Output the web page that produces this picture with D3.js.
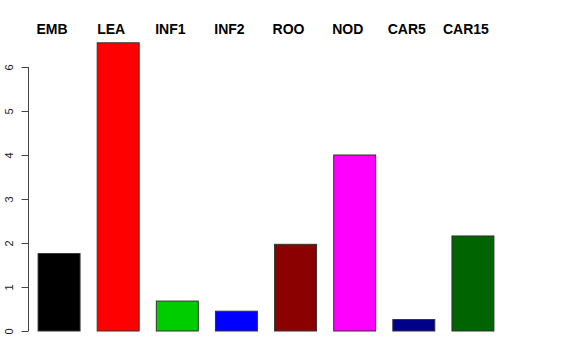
<!DOCTYPE html>
<html>
<head>
<meta charset="utf-8">
<script src="https://cdn.jsdelivr.net/npm/d3@7"></script>
<style>
  body { margin: 0; background: #fff; }
  svg { display: block; font-family: "Liberation Sans", Arial, sans-serif; }
</style>
</head>
<body>
<div id="chart"></div>
<script>
// data
const tissues = ['EMB', 'LEA', 'INF1', 'INF2', 'ROO', 'NOD', 'CAR5', 'CAR15']
const values = [1.76, 6.55, 0.68, 0.45, 1.97, 4.0, 0.26, 2.16]
const colors = ['#000000', '#ff0000', '#00cd00', '#0000ff', '#8b0000', '#ff00ff', '#00008b', '#006400']
const yTicks = [0, 1, 2, 3, 4, 5, 6]

const width = 576, height = 360

const svg = d3.select('#chart')
  .append('svg')
    .attr('width', width)
    .attr('height', height)

// ~59px per bar slot, 42px wide bars
const x = d3.scaleBand()
  .domain(tissues)
  .range([29.5, 502.5])
  .paddingInner(0.29)
  .paddingOuter(0.145)

const y = d3.scaleLinear()
  .domain([0, 6])
  .range([331, 67])

svg.append('g')
  .selectAll('rect')
  .data(tissues)
  .join('rect')
    .attr('x', d => x(d))
    .attr('y', (d, i) => y(values[i]))
    .attr('width', x.bandwidth())
    .attr('height', (d, i) => y(0) - y(values[i]))
    .attr('fill', (d, i) => colors[i])
    .attr('stroke', '#333')
    .attr('stroke-width', 1)

// y axis, R style
const yAxis = svg.append('g')
  .attr('transform', 'translate(28.5,0)')
  .call(d3.axisLeft(y).tickValues(yTicks).tickSize(7).tickFormat(d3.format('d')))

yAxis.select('.domain').attr('stroke', '#444').attr('d', `M0,${y(0)}V${y(6)}`)
yAxis.selectAll('.tick line').attr('stroke', '#444')
yAxis.selectAll('.tick text')
  .attr('font-size', 11)
  .attr('fill', '#222')
  .attr('font-family', '"Liberation Sans", Arial, sans-serif')
  .attr('text-anchor', 'middle')
  .attr('x', 0)
  .attr('dy', 0)
  .attr('transform', 'translate(-16,0) rotate(-90)')

// labels on top
svg.append('g')
  .selectAll('text')
  .data(tissues)
  .join('text')
    .attr('x', d => x(d) + x.bandwidth() / 2 - 7)
    .attr('y', 34)
    .attr('text-anchor', 'middle')
    .attr('font-weight', 'bold')
    .attr('font-size', 14)
    .attr('fill', '#000')
    .text(d => d)
</script>
</body>
</html>
